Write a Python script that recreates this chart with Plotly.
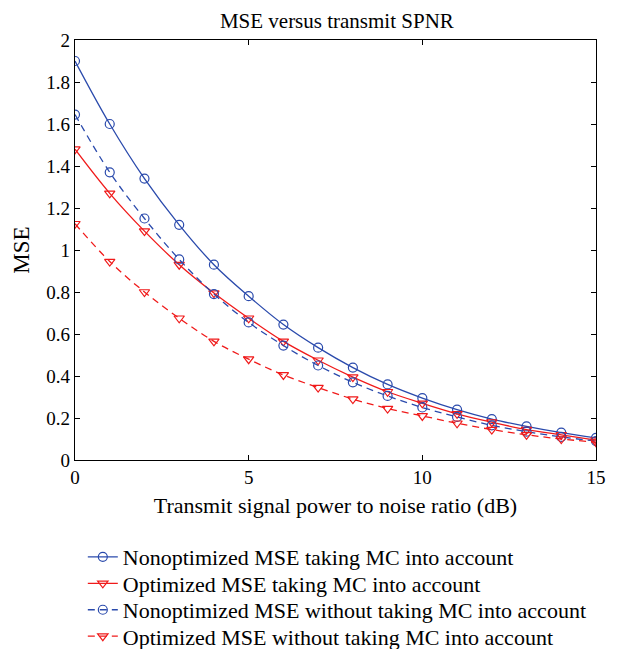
import plotly.graph_objects as go

snr_db = list(range(16))
nonopt_mc = [1.90, 1.60, 1.34, 1.12, 0.93, 0.78, 0.645, 0.535, 0.44, 0.36, 0.295, 0.24, 0.195, 0.16, 0.13, 0.105]
opt_mc = [1.48, 1.27, 1.09, 0.93, 0.795, 0.675, 0.565, 0.475, 0.395, 0.325, 0.27, 0.22, 0.18, 0.145, 0.12, 0.095]
nonopt_nomc = [1.645, 1.37, 1.15, 0.955, 0.79, 0.655, 0.545, 0.45, 0.37, 0.305, 0.25, 0.205, 0.165, 0.135, 0.11, 0.09]
opt_nomc = [1.125, 0.945, 0.80, 0.675, 0.565, 0.48, 0.405, 0.345, 0.29, 0.245, 0.21, 0.175, 0.145, 0.12, 0.10, 0.085]

names = [
    "Nonoptimized MSE taking MC into account",
    "Optimized MSE taking MC into account",
    "Nonoptimized MSE without taking MC into account",
    "Optimized MSE without taking MC into account",
]

BLUE = "#2a4aac"
RED = "#f01a1a"
FONT = "Liberation Serif"

fig = go.Figure()
series = [
    (nonopt_mc, BLUE, "solid", "circle-open"),
    (opt_mc, RED, "solid", "triangle-down-open"),
    (nonopt_nomc, BLUE, "7px,5px", "circle-open"),
    (opt_nomc, RED, "7px,5px", "triangle-down-open"),
]
legend_ids = ["legend", "legend2", "legend3", "legend4"]
for (ys, col, dash, sym), nm, lg in zip(series, names, legend_ids):
    fig.add_trace(go.Scatter(
        x=snr_db, y=ys, name=nm, mode="lines+markers", legend=lg,
        line=dict(color=col, width=1.3, dash=dash, shape="spline"),
        marker=dict(symbol=sym, size=9, color=col, line=dict(color=col, width=1.2)),
    ))

axis_common = dict(
    showline=True, linecolor="black", linewidth=1.2, mirror="ticks",
    ticks="inside", ticklen=5, tickcolor="black", showgrid=False, zeroline=False,
    tickfont=dict(family=FONT, size=19, color="black"),
)

legend_ys = [-0.231, -0.294, -0.357, -0.420]
legend_style = dict(x=0.015, xanchor="left", yanchor="middle",
                    font=dict(family=FONT, size=22, color="black"),
                    bgcolor="rgba(0,0,0,0)", itemwidth=30)
legends = {lg: dict(y=yy, **legend_style) for lg, yy in zip(legend_ids, legend_ys)}

fig.update_layout(
    width=609, height=641,
    margin=dict(l=67, r=21, t=32, b=189, autoexpand=False),
    plot_bgcolor="white", paper_bgcolor="white",
    title=dict(text="MSE versus transmit SPNR", x=0.54, xanchor="center", y=0.992, yanchor="top",
               font=dict(family=FONT, size=21, color="black")),
    xaxis=dict(range=[0, 15], tickvals=[0, 5, 10, 15],
               title=dict(text="Transmit signal power to noise ratio (dB)",
                          font=dict(family=FONT, size=22, color="black"), standoff=10),
               **axis_common),
    yaxis=dict(range=[0, 2], tickvals=[0, 0.2, 0.4, 0.6, 0.8, 1, 1.2, 1.4, 1.6, 1.8, 2],
               ticktext=["0", "0.2", "0.4", "0.6", "0.8", "1", "1.2", "1.4", "1.6", "1.8", "2"],
               title=dict(text="MSE", font=dict(family=FONT, size=23, color="black"), standoff=10),
               **axis_common),
    showlegend=True,
    **legends,
)
fig.write_html("out.html")
